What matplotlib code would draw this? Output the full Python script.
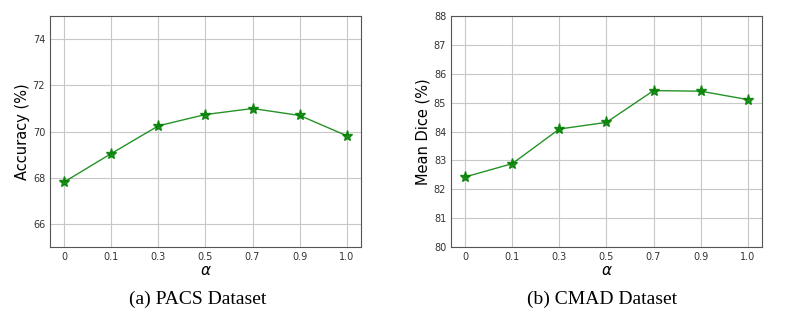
import matplotlib.pyplot as plt

alpha_labels = ['0', '0.1', '0.3', '0.5', '0.7', '0.9', '1.0']
pacs_acc = [67.82, 69.05, 70.25, 70.74, 71.0, 70.7, 69.82]
cmad_dice = [82.43, 82.89, 84.09, 84.32, 85.42, 85.40, 85.11]

fig = plt.figure(figsize=(7.89, 3.16), dpi=100)
ax1 = fig.add_axes([0.0634, 0.218, 0.394, 0.731])
ax2 = fig.add_axes([0.5716, 0.218, 0.394, 0.731])

x = list(range(len(alpha_labels)))

def draw(ax, values, ylabel, ylim, yticks):
    ax.plot(x, values, color='green', marker='*', markersize=8, linewidth=1, alpha=0.85,
            markerfacecolor='green', markeredgecolor='green')
    ax.set_xticks(x)
    ax.set_xticklabels(alpha_labels)
    ax.set_xlim(-0.3, 6.3)
    ax.set_ylim(*ylim)
    ax.set_yticks(yticks)
    ax.set_xlabel(r'$\alpha$', fontsize=11, labelpad=1)
    ax.set_ylabel(ylabel, fontsize=10.5, labelpad=2)
    ax.tick_params(labelsize=7, colors='#333333', length=0, pad=3.5)
    ax.grid(True, color='#c8c8c8', linewidth=0.8)
    for s in ax.spines.values():
        s.set_color('#555555')

draw(ax1, pacs_acc, 'Accuracy (%)', (65, 75), [66, 68, 70, 72, 74])
draw(ax2, cmad_dice, 'Mean Dice (%)', (80, 88), list(range(80, 89)))

fig.text(0.25, 0.037, '(a) PACS Dataset', ha='center', family='Liberation Serif', fontsize=14)
fig.text(0.763, 0.037, '(b) CMAD Dataset', ha='center', family='Liberation Serif', fontsize=14)

fig.savefig('out.png', dpi=100)
